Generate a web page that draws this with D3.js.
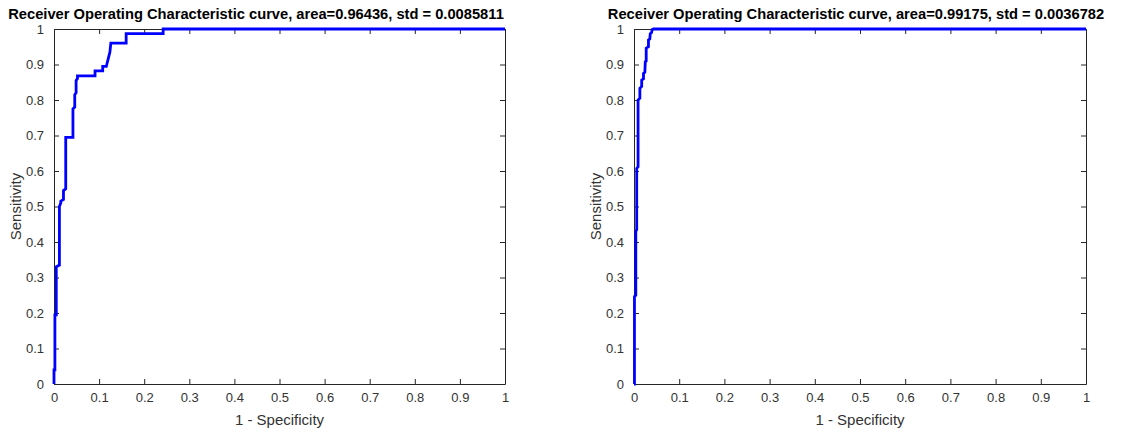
<!DOCTYPE html>
<html>
<head>
<meta charset="utf-8">
<script src="https://cdn.jsdelivr.net/npm/d3@7"></script>
<style>
  body { margin: 0; background: #fff; }
  svg { display: block; font-family: "Liberation Sans", Arial, sans-serif; }
</style>
</head>
<body>
<div id="chart"></div>
<script>
// left ROC curve (staircase vertices)
var leftFpr = [0, 0, 0.002, 0.002, 0.005, 0.005, 0.012, 0.012, 0.015, 0.015, 0.021, 0.021, 0.026, 0.026,
  0.042, 0.042, 0.046, 0.046, 0.049, 0.049, 0.052, 0.052, 0.091, 0.091, 0.108, 0.108, 0.116, 0.118,
  0.121, 0.124, 0.126, 0.16, 0.16, 0.242, 0.242, 1];
var leftTpr = [0, 0.04, 0.04, 0.195, 0.195, 0.33, 0.335, 0.5, 0.51, 0.515, 0.52, 0.545, 0.55, 0.695,
  0.695, 0.775, 0.78, 0.815, 0.82, 0.855, 0.86, 0.868, 0.868, 0.882, 0.882, 0.895, 0.895, 0.905,
  0.92, 0.935, 0.96, 0.96, 0.987, 0.987, 1, 1];

// right ROC curve
var rightFpr = [0, 0.001, 0.001, 0.004, 0.004, 0.006, 0.006, 0.009, 0.009, 0.013, 0.013, 0.017, 0.017,
  0.021, 0.021, 0.024, 0.025, 0.027, 0.027, 0.032, 0.032, 0.035, 0.036, 0.039, 0.04, 0.043, 1];
var rightTpr = [0, 0, 0.246, 0.25, 0.43, 0.435, 0.607, 0.612, 0.8, 0.805, 0.833, 0.838, 0.856,
  0.86, 0.875, 0.878, 0.908, 0.91, 0.946, 0.95, 0.969, 0.972, 0.987, 0.99, 0.998, 1, 1];

var titles = ["Receiver Operating Characteristic curve, area=0.96436, std = 0.0085811",
              "Receiver Operating Characteristic curve, area=0.99175, std = 0.0036782"];
var tickVals = [0, 0.1, 0.2, 0.3, 0.4, 0.5, 0.6, 0.7, 0.8, 0.9, 1];
var xLabel = "1 - Specificity";
var yLabel = "Sensitivity";

var W = 1124, H = 432;
var axCol = "#333333";

var svg = d3.select("#chart").append("svg")
  .attr("width", W).attr("height", H);

var panels = [
  {left: 54, right: 505, top: 29, bottom: 384, titleX: 256, fpr: leftFpr, tpr: leftTpr, title: titles[0]},
  {left: 634, right: 1086, top: 29, bottom: 384, titleX: 856, fpr: rightFpr, tpr: rightTpr, title: titles[1]}
];

var fmt = function(d) { return d3.format("")(+d.toFixed(1)); };

panels.forEach(function(p) {
  var x = d3.scaleLinear().domain([0, 1]).range([p.left, p.right]);
  var y = d3.scaleLinear().domain([0, 1]).range([p.bottom, p.top]);
  var g = svg.append("g");

  // frame with inward ticks on all four sides
  var axB = g.append("g").attr("transform", "translate(0," + p.bottom + ")")
    .call(d3.axisBottom(x).tickValues(tickVals).tickSizeInner(-5).tickSizeOuter(0).tickPadding(9).tickFormat(fmt));
  var axT = g.append("g").attr("transform", "translate(0," + p.top + ")")
    .call(d3.axisTop(x).tickValues(tickVals).tickSizeInner(-5).tickSizeOuter(0).tickFormat(""));
  var axL = g.append("g").attr("transform", "translate(" + p.left + ",0)")
    .call(d3.axisLeft(y).tickValues(tickVals).tickSizeInner(-5).tickSizeOuter(0).tickPadding(10).tickFormat(fmt));
  var axR = g.append("g").attr("transform", "translate(" + p.right + ",0)")
    .call(d3.axisRight(y).tickValues(tickVals).tickSizeInner(-5).tickSizeOuter(0).tickFormat(""));

  [axB, axT, axL, axR].forEach(function(a) {
    a.selectAll("path, line").attr("stroke", "#262626").attr("stroke-width", 1);
    a.selectAll("text").attr("fill", axCol).style("font-size", "13px")
      .style("font-family", "'Liberation Sans', Arial, sans-serif");
  });

  var pts = p.fpr.map(function(f, i) { return [f, p.tpr[i]]; });
  var line = d3.line().x(function(d) { return x(d[0]); }).y(function(d) { return y(d[1]); });
  g.append("path").datum(pts)
    .attr("d", line)
    .attr("fill", "none")
    .attr("stroke", "#0000ff")
    .attr("stroke-width", 2.8)
    .attr("stroke-linejoin", "miter");

  g.append("text")
    .attr("x", p.titleX).attr("y", 19)
    .attr("text-anchor", "middle")
    .style("font-size", "14.7px").style("font-weight", "bold")
    .attr("fill", "#000")
    .text(p.title);

  g.append("text")
    .attr("x", (p.left + p.right) / 2).attr("y", 425)
    .attr("text-anchor", "middle")
    .style("font-size", "15px")
    .attr("fill", axCol)
    .text(xLabel);

  g.append("text")
    .attr("transform", "translate(" + (p.left - 33) + "," + ((p.top + p.bottom) / 2) + ") rotate(-90)")
    .attr("text-anchor", "middle")
    .style("font-size", "15px")
    .attr("fill", axCol)
    .text(yLabel);
});
</script>
</body>
</html>
